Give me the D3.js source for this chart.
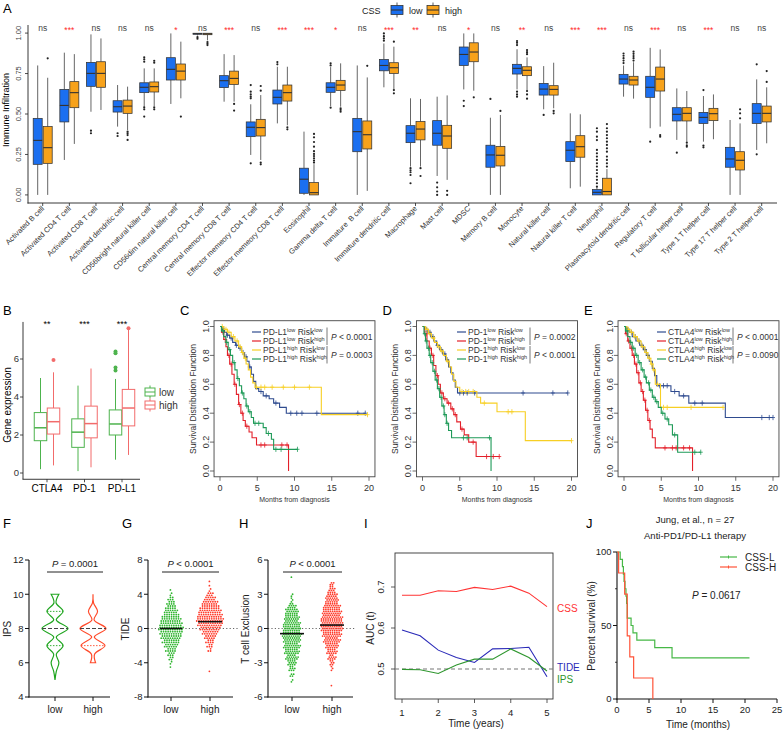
<!DOCTYPE html>
<html>
<head>
<meta charset="utf-8">
<script src="https://cdn.jsdelivr.net/npm/d3@7"></script>
<style>
  body { margin: 0; background: #fff; }
  svg { font-family: "Liberation Sans", Arial, sans-serif; }
</style>
</head>
<body>
<svg id="fig" width="784" height="732"></svg>
<script>
/* ---------- panel A: ssGSEA immune infiltration ---------- */
var cellTypes = ["Activated B cell", "Activated CD4 T cell", "Activated CD8 T cell", "Activated dendritic cell",
    "CD56bright natural killer cell", "CD56dim natural killer cell", "Central memory CD4 T cell",
    "Central memory CD8 T cell", "Effector memeory CD4 T cell", "Effector memeory CD8 T cell", "Eosinophil",
    "Gamma delta T cell", "Immature  B cell", "Immature dendritic cell", "Macrophage", "Mast cell", "MDSC",
    "Memory B cell", "Monocyte", "Natural killer cell", "Natural killer T cell", "Neutrophil",
    "Plasmacytoid dendritic cell", "Regulatory T cell", "T follicular helper cell", "Type 1 T helper cell",
    "Type 17 T helper cell", "Type 2 T helper cell"];
var sigA = ["ns", "***", "ns", "ns", "ns", "*", "ns", "***", "ns", "***", "***", "*", "ns", "***", "**", "ns",
    "*", "ns", "**", "ns", "***", "***", "ns", "***", "ns", "***", "ns", "ns"];
// [lower whisker, q1, median, q3, upper whisker]
var lowBox = [[0, 0.189, 0.337, 0.473, 0.80], [0.216, 0.451, 0.553, 0.652, 0.879], [0.514, 0.671, 0.751, 0.819, 0.992],
    [0.422, 0.512, 0.545, 0.582, 0.679], [0.545, 0.632, 0.665, 0.693, 0.782], [0.562, 0.710, 0.776, 0.848, 0.998],
    [0.985, 0.993, 0.996, 0.999, 1.0], [0.576, 0.663, 0.706, 0.737, 0.870], [0.247, 0.360, 0.418, 0.451, 0.56],
    [0.442, 0.562, 0.603, 0.648, 0.792], [0, 0.01, 0.097, 0.165, 0.391], [0.549, 0.634, 0.665, 0.693, 0.79],
    [0, 0.267, 0.391, 0.473, 0.80], [0.665, 0.767, 0.80, 0.837, 0.936], [0.175, 0.323, 0.381, 0.428, 0.597],
    [0.117, 0.307, 0.381, 0.459, 0.607], [0.652, 0.80, 0.868, 0.914, 0.998], [0, 0.171, 0.247, 0.307, 0.477],
    [0.652, 0.747, 0.782, 0.807, 0.90], [0.529, 0.617, 0.654, 0.689, 0.796], [0.041, 0.206, 0.276, 0.329, 0.504],
    [0, 0, 0.016, 0.033, 0.045], [0.607, 0.685, 0.716, 0.745, 0.80], [0.412, 0.603, 0.665, 0.733, 0.909],
    [0.340, 0.457, 0.498, 0.539, 0.658], [0.329, 0.442, 0.479, 0.510, 0.611], [0, 0.171, 0.222, 0.294, 0.463],
    [0.278, 0.442, 0.504, 0.564, 0.714]];
var highBox = [[0, 0.195, 0.292, 0.422, 0.724], [0.315, 0.539, 0.632, 0.70, 0.870], [0.525, 0.665, 0.751, 0.823, 0.967],
    [0.401, 0.504, 0.549, 0.586, 0.669], [0.549, 0.636, 0.669, 0.698, 0.782], [0.597, 0.71, 0.765, 0.809, 0.947],
    [0.955, 0.99, 0.995, 0.999, 1.0], [0.576, 0.683, 0.720, 0.765, 0.864], [0.216, 0.364, 0.416, 0.467, 0.617],
    [0.43, 0.580, 0.632, 0.679, 0.792], [0, 0, 0.014, 0.076, 0.19], [0.545, 0.646, 0.679, 0.708, 0.813],
    [0.025, 0.284, 0.372, 0.457, 0.726], [0.652, 0.751, 0.786, 0.817, 0.916], [0.175, 0.340, 0.407, 0.453, 0.593],
    [0.093, 0.288, 0.364, 0.430, 0.615], [0.644, 0.823, 0.883, 0.940, 0.998], [0, 0.179, 0.245, 0.300, 0.494],
    [0.648, 0.737, 0.770, 0.792, 0.85], [0.535, 0.617, 0.652, 0.675, 0.817], [0.051, 0.233, 0.298, 0.366, 0.498],
    [0, 0, 0.021, 0.103, 0.16], [0.595, 0.679, 0.710, 0.733, 0.82], [0.422, 0.642, 0.716, 0.790, 0.899],
    [0.329, 0.457, 0.504, 0.539, 0.642], [0.344, 0.459, 0.502, 0.535, 0.621], [0, 0.154, 0.214, 0.267, 0.442],
    [0.319, 0.451, 0.504, 0.549, 0.665]];
var lowOut = [[], [], [0.397, 0.381], [0.381, 0.364], [0.85, 0.837, 0.823, 0.541, 0.529, 0.484], [], [0.975, 0.965], [],
    [0.679, 0.638, 0.621, 0.607, 0.597, 0.195], [0.821, 0.807], [], [0.813, 0.80, 0.539], [], [0.998, 0.981, 0.967, 0.953],
    [0.165, 0.152, 0.14, 0.123, 0.072], [0.076, 0.047, 0.021, 0], [0.582, 0.549], [0.593], [0.951, 0.94, 0.926, 0.638, 0.621, 0.607],
    [0.494], [], [0.412, 0.391, 0.360, 0.339, 0.278, 0.257, 0.237, 0.216, 0.195, 0.175, 0.154, 0.134, 0.113, 0.093, 0.072, 0.051],
    [0.874, 0.86, 0.845, 0.83, 0.815], [0.329], [0.261], [0.648, 0.305, 0.294], [], [0.807, 0.251]];
var highOut = [[0.844], [], [], [0.391, 0.381, 0.370, 0.340], [0.829, 0.817, 0.541, 0.529], [0.484], [0.945, 0.935, 0.926],
    [0.562, 0.521], [0.673, 0.644, 0.2, 0.189], [0.418, 0.405], [0.377, 0.356, 0.327, 0.298, 0.27, 0.253, 0.24, 0.226, 0.212, 0.2],
    [0.535, 0.525, 0.514], [0.798], [0.947, 0.648, 0.628], [0.165, 0.117], [0.025, 0], [0.603], [0.519],
    [0.895, 0.882, 0.87, 0.642, 0.621, 0.595], [0.519, 0.504], [],
    [0.438, 0.412, 0.391, 0.370, 0.350, 0.329, 0.309, 0.288, 0.267, 0.237, 0.216, 0.195, 0.175],
    [0.885, 0.872, 0.858, 0.845, 0.83], [0.370, 0.360], [0.323, 0.307, 0.298], [], [0.529, 0.504, 0.473], [0.765, 0.698]];
var ticksA = [0, 0.25, 0.5, 0.75, 1];

/* ---------- panel B: checkpoint gene expression ---------- */
var geneNames = ["CTLA4", "PD-1", "PD-L1"];
var sigB = ["**", "***", "***"];
var lowGene = [[0.2, 1.7, 2.38, 3.18, 5.0], [0.1, 1.35, 2.15, 2.85, 4.6], [0.7, 2.0, 2.58, 3.32, 4.95]];
var highGene = [[0.4, 2.05, 2.7, 3.42, 5.3], [0.3, 1.85, 2.6, 3.52, 5.5], [0.95, 2.48, 3.42, 4.4, 7.55]];
var lowGeneOut = [[], [], [5.4, 5.55, 6.3, 6.4]];
var highGeneOut = [[5.95], [], [7.62]];
var ticksB = [0, 2, 4, 6];

/* ---------- panels C-E: KM curves, [time, survival after drop] ---------- */
var kmTicksX = [0, 5, 10, 15, 20];
var kmTicksY = [0, 0.2, 0.4, 0.6, 0.8, 1.0];
var pdl1LL = [[0.3, 0.98], [0.6, 0.96], [0.9, 0.94], [1.3, 0.92], [1.7, 0.89], [2.1, 0.87], [2.5, 0.85], [2.9, 0.82], [3.3, 0.79],
    [3.6, 0.76], [3.9, 0.72], [4.2, 0.67], [4.5, 0.62], [4.8, 0.57], [5.2, 0.55], [5.8, 0.52], [6.6, 0.50], [7.2, 0.47], [8.0, 0.44], [8.9, 0.40]];
var pdl1LH = [[0.2, 0.96], [0.5, 0.91], [0.8, 0.86], [1.0, 0.80], [1.3, 0.74], [1.6, 0.67], [1.9, 0.60], [2.2, 0.53], [2.5, 0.46],
    [2.8, 0.40], [3.1, 0.35], [3.4, 0.31], [3.9, 0.27], [4.3, 0.23], [4.9, 0.18], [9.2, 0.0]];
var pdl1HL = [[0.5, 0.98], [1.0, 0.96], [1.5, 0.93], [2.0, 0.90], [2.5, 0.86], [2.9, 0.82], [3.2, 0.78], [3.5, 0.74], [3.8, 0.70],
    [4.1, 0.65], [4.4, 0.61], [4.7, 0.58], [13.6, 0.39]];
var pdl1HH = [[0.2, 0.97], [0.5, 0.93], [0.8, 0.89], [1.1, 0.84], [1.4, 0.80], [1.7, 0.75], [2.0, 0.70], [2.3, 0.64], [2.6, 0.59],
    [2.9, 0.54], [3.2, 0.50], [3.5, 0.45], [3.8, 0.41], [4.2, 0.37], [4.5, 0.33], [5.8, 0.30], [6.2, 0.26], [6.9, 0.22], [7.2, 0.15]];
var pdl1LLc = [0.5, 1.0, 1.5, 2.2, 2.7, 3.1, 3.5, 4.0, 5.5, 6.2, 7.5, 9.5, 10.3, 11.0, 13.0, 18.5, 19.5];
var pdl1LHc = [0.4, 0.7, 1.2, 1.5, 2.0, 2.6, 3.0, 3.6, 5.5, 6.0, 8.3, 9.0];
var pdl1HLc = [0.3, 0.8, 1.2, 1.8, 2.3, 2.7, 3.0, 3.4, 4.9, 5.5, 6.0, 7.0, 8.5, 10.0, 12.0, 19.8];
var pdl1HHc = [0.4, 0.9, 1.3, 1.9, 2.4, 3.0, 3.6, 4.0, 4.7, 5.2, 6.5, 7.5, 8.2, 10.4];

var pd1LL = [[0.3, 0.98], [0.7, 0.96], [1.1, 0.93], [1.5, 0.90], [1.9, 0.87], [2.3, 0.84], [2.7, 0.81], [3.1, 0.77], [3.5, 0.72],
    [3.8, 0.68], [4.1, 0.63], [4.4, 0.58], [4.7, 0.54]];
var pd1LH = [[0.3, 0.95], [0.6, 0.90], [0.9, 0.85], [1.2, 0.80], [1.5, 0.73], [1.8, 0.66], [2.1, 0.60], [2.4, 0.54], [2.8, 0.50],
    [3.3, 0.47], [3.8, 0.43], [4.2, 0.39], [4.6, 0.34], [5.1, 0.29], [5.6, 0.25], [6.2, 0.20], [7.2, 0.10]];
var pd1HL = [[0.4, 0.98], [0.8, 0.95], [1.2, 0.92], [1.6, 0.89], [2.0, 0.86], [2.4, 0.83], [2.8, 0.80], [3.2, 0.76], [3.6, 0.72],
    [3.9, 0.67], [4.2, 0.62], [4.5, 0.58], [5.0, 0.55], [7.3, 0.51], [7.8, 0.47], [10.0, 0.41], [13.8, 0.21]];
var pd1HH = [[0.2, 0.95], [0.4, 0.90], [0.6, 0.85], [0.9, 0.80], [1.1, 0.75], [1.4, 0.69], [1.7, 0.63], [2.0, 0.57], [2.3, 0.51],
    [2.6, 0.45], [2.9, 0.39], [3.2, 0.33], [3.5, 0.28], [3.9, 0.23], [9.2, 0.0]];
var pd1LLc = [0.5, 1.0, 1.4, 2.0, 2.5, 3.0, 3.3, 5.0, 5.5, 6.0, 7.0, 13.5, 17.5, 19.5];
var pd1LHc = [0.5, 1.0, 1.4, 2.0, 2.6, 3.0, 3.5, 4.0, 4.4, 5.3, 6.8, 8.6, 9.5, 10.3];
var pd1HLc = [0.6, 1.0, 1.5, 2.2, 2.6, 3.4, 5.3, 5.8, 6.2, 6.8, 8.3, 11.5, 12.0, 20.0];
var pd1HHc = [0.3, 0.5, 0.8, 1.0, 1.3, 1.6, 1.9, 2.2, 2.5, 2.8, 3.0, 3.3, 5.5, 6.0, 9.0];

var ctla4LL = [[0.3, 0.98], [0.7, 0.96], [1.1, 0.93], [1.6, 0.90], [2.1, 0.87], [2.6, 0.84], [3.0, 0.80], [3.4, 0.76], [3.8, 0.71],
    [4.1, 0.66], [4.4, 0.59], [6.3, 0.55], [7.4, 0.52], [8.7, 0.47], [13.6, 0.37]];
var ctla4LH = [[0.2, 0.95], [0.5, 0.90], [0.8, 0.85], [1.1, 0.80], [1.4, 0.74], [1.7, 0.68], [2.0, 0.61], [2.3, 0.55], [2.6, 0.49],
    [2.9, 0.42], [3.2, 0.35], [3.5, 0.29], [3.8, 0.23], [4.2, 0.16], [9.2, 0.0]];
var ctla4HL = [[0.4, 0.98], [0.8, 0.96], [1.3, 0.93], [1.8, 0.90], [2.3, 0.86], [2.8, 0.82], [3.2, 0.78], [3.6, 0.74], [3.9, 0.70],
    [4.2, 0.60], [4.9, 0.44]];
var ctla4HH = [[0.2, 0.97], [0.5, 0.93], [0.8, 0.89], [1.1, 0.85], [1.5, 0.80], [1.9, 0.75], [2.3, 0.70], [2.7, 0.65], [3.0, 0.61],
    [3.4, 0.56], [3.8, 0.51], [4.2, 0.48], [4.6, 0.44], [5.0, 0.40], [5.5, 0.36], [6.0, 0.32], [6.5, 0.25], [7.2, 0.13]];
var ctla4LLc = [0.5, 1.0, 1.5, 2.0, 2.4, 2.8, 3.2, 4.8, 5.3, 5.8, 6.8, 8.0, 9.5, 10.5, 18.5, 19.5, 20.0];
var ctla4LHc = [0.3, 0.6, 1.0, 1.3, 1.6, 1.9, 2.2, 2.5, 2.8, 3.1, 3.4, 5.5, 6.5, 7.0, 8.0, 8.8];
var ctla4HLc = [0.6, 1.0, 1.5, 2.0, 2.5, 3.0, 3.4, 3.7, 4.0, 4.5, 5.3, 5.8, 9.0, 13.3];
var ctla4HHc = [0.4, 0.9, 1.3, 1.7, 2.1, 2.5, 2.9, 3.3, 3.6, 4.0, 4.4, 5.2, 5.8, 6.8, 9.5, 10.3];

/* ---------- panel F: IPS violins ---------- */
var ipsLowV = [5, 5.5, 6, 6.5, 7, 7.5, 8, 8.5, 9, 9.5, 10];
var ipsLowW = [0, 0.1, 0.3, 0.1, 0.62, 0.1, 1.0, 0.1, 0.62, 0.08, 0.3];
var ipsHighV = [6, 6.5, 7, 7.5, 8, 8.5, 9, 9.5, 10];
var ipsHighW = [0.2, 0.12, 0.92, 0.1, 1.0, 0.08, 0.35, 0.04, 0.0];
var ticksF = [4, 6, 8, 10, 12];

/* ---------- panels G, H: dot counts per 0.5-wide bin ---------- */
var tideBins = [-5, -4.5, -4, -3.5, -3, -2.5, -2, -1.5, -1, -0.5, 0, 0.5, 1, 1.5, 2, 2.5, 3, 3.5, 4, 4.5, 5, 5.5];
var tideLow = [0, 1, 2, 4, 6, 9, 12, 15, 18, 20, 22, 20, 18, 15, 12, 9, 7, 5, 2, 1, 0, 0];
var tideHigh = [1, 0, 0, 0, 0, 3, 5, 7, 10, 14, 18, 22, 24, 22, 20, 17, 14, 10, 6, 2, 1, 1];
var tideMed = [0, 0.8];
var excBins = [-5, -4.5, -4, -3.5, -3, -2.5, -2, -1.5, -1, -0.5, 0, 0.5, 1, 1.5, 2, 2.5, 3, 3.5, 4, 4.5];
var excLow = [0, 2, 4, 8, 12, 16, 20, 22, 24, 26, 24, 22, 20, 18, 10, 3, 2, 0, 0, 1];
var excHigh = [1, 0, 0, 3, 6, 10, 14, 18, 22, 26, 30, 30, 28, 26, 22, 18, 14, 8, 4, 0];
var excMed = [-0.45, 0.3];
var ticksG = [-8, -4, 0, 4, 8];
var ticksH = [-6, -3, 0, 3, 6];

/* ---------- panel I: time-dependent AUC ---------- */
var aucTimes = [1, 1.5, 2, 2.5, 3, 3.5, 4, 4.5, 5];
var aucCSS = [0.680, 0.680, 0.691, 0.689, 0.699, 0.694, 0.702, 0.685, 0.652];
var aucTIDE = [0.595, 0.581, 0.546, 0.528, 0.516, 0.549, 0.550, 0.553, 0.481];
var aucIPS = [0.499, 0.498, 0.489, 0.510, 0.524, 0.524, 0.549, 0.528, 0.495];

/* ---------- panel J: immunotherapy cohort ---------- */
var jungL = [[0.5, 95], [0.85, 90], [1.0, 85], [1.1, 80], [1.25, 75], [1.4, 70], [1.5, 65], [1.6, 55], [2.2, 50], [2.5, 45],
    [3.1, 40], [5.9, 35], [8.6, 28]];
var jungH = [[0.25, 85.7], [1.2, 71.4], [1.6, 42.9], [2.0, 28.6], [2.6, 14.3], [5.6, 0]];
var jungLEnd = 20.7;
var ticksJx = [0, 5, 10, 15, 20, 25];
var ticksJy = [0, 50, 100];

var BLUE = "#1b6ff0", ORANGE = "#f7a21b";
var GREEN_B = "#4db34d", RED_B = "#f26b6b";
var KM_COL = ["#2f4b8f", "#e3202a", "#f7cf24", "#1e9a58"];

var svg = d3.select("#fig");

function txt(g, x, y, s, size, attrs) {
    var t = g.append("text").attr("x", x).attr("y", y).attr("font-size", size).text(s);
    for (var k in (attrs || {})) t.attr(k, attrs[k]);
    return t;
}
function line(g, x1, y1, x2, y2, stroke, w, dash) {
    var l = g.append("line").attr("x1", x1).attr("y1", y1).attr("x2", x2).attr("y2", y2)
        .attr("stroke", stroke).attr("stroke-width", w);
    if (dash) l.attr("stroke-dasharray", dash);
    return l;
}
function ptext(g, x, y, rest, size, anchor) {
    var t = g.append("text").attr("x", x).attr("y", y).attr("font-size", size).attr("text-anchor", anchor || "start");
    t.append("tspan").attr("font-style", "italic").text("P");
    t.append("tspan").text(" " + rest);
    return t;
}
function box(g, s, outs, cx, w, y, fill, stroke, sw, outCol, r) {
    line(g, cx, y(s[0]), cx, y(s[1]), stroke, sw);
    line(g, cx, y(s[3]), cx, y(s[4]), stroke, sw);
    g.append("rect").attr("x", cx - w / 2).attr("y", y(s[3])).attr("width", w)
        .attr("height", Math.max(0.6, y(s[1]) - y(s[3]))).attr("fill", fill).attr("stroke", stroke).attr("stroke-width", sw);
    line(g, cx - w / 2, y(s[2]), cx + w / 2, y(s[2]), stroke, sw * 1.5);
    outs.forEach(function(v) {
        g.append("circle").attr("cx", cx).attr("cy", y(v)).attr("r", r).attr("fill", outCol);
    });
}
function label(x, y, s) { txt(svg, x, y, s, 13); }

/* ===== A ===== */
(function() {
    var g = svg.append("g");
    var x = d3.scalePoint().domain(d3.range(cellTypes.length)).range([42.7, 761.7]);
    var y = d3.scaleLinear().domain([-0.05, 1.05]).range([203, 25]);
    label(3, 13, "A");
    line(g, 28, 25, 28, 203.5, "#222", 0.9);
    line(g, 27.5, 203, 777, 203, "#222", 0.9);
    ticksA.forEach(function(v) {
        line(g, 25, y(v), 28, y(v), "#222", 0.8);
        txt(g, 20.6, y(v), d3.format(".2f")(v), 7.5, {"text-anchor": "middle", fill: "#444",
            transform: "rotate(-90," + 20.6 + "," + y(v) + ")"});
    });
    txt(g, 9, 110, "Immune Infiltration", 9, {"text-anchor": "middle", transform: "rotate(-90,9,110)"});
    cellTypes.forEach(function(c, i) {
        var cx = x(i);
        line(g, cx, 203, cx, 206, "#222", 0.8);
        txt(g, cx + 2, 209, c, 7.5, {"text-anchor": "end", fill: "#333", style: "white-space:pre",
            transform: "rotate(-45," + (cx + 2) + ",209)"});
        box(g, lowBox[i], lowOut[i], cx - 5, 9, y, BLUE, "#333", 0.75, "#222", 1.1);
        box(g, highBox[i], highOut[i], cx + 5, 9, y, ORANGE, "#333", 0.75, "#222", 1.1);
        var star = sigA[i] !== "ns";
        txt(g, cx, star ? 33 : 30.5, sigA[i], 8.5, {"text-anchor": "middle", fill: star ? "#ff2a2a" : "#444"});
    });
    // legend
    txt(g, 362, 14, "CSS", 9, {fill: "#222"});
    [[BLUE, 391, "low"], [ORANGE, 427, "high"]].forEach(function(d) {
        line(g, d[1] + 6, 2.5, d[1] + 6, 17.5, "#333", 0.8);
        g.append("rect").attr("x", d[1]).attr("y", 5.5).attr("width", 12).attr("height", 9)
            .attr("fill", d[0]).attr("stroke", "#333").attr("stroke-width", 0.8);
        line(g, d[1], 10, d[1] + 12, 10, "#333", 1.1);
        txt(g, d[1] + 18, 13.5, d[2], 9, {fill: "#222"});
    });
})();

/* ===== B ===== */
(function() {
    var g = svg.append("g");
    var x = d3.scalePoint().domain(geneNames).range([47, 122]);
    var y = d3.scaleLinear().domain([0, 6]).range([473, 359]);
    label(3, 315, "B");
    line(g, 23, y(7.95), 23, y(-0.33), "#222", 0.9);
    line(g, 22.5, y(-0.33), 140, y(-0.33), "#222", 0.9);
    ticksB.forEach(function(v) {
        line(g, 20, y(v), 23, y(v), "#222", 0.8);
        txt(g, 19, y(v) + 3.3, v, 9.5, {"text-anchor": "end", fill: "#333"});
    });
    txt(g, 10.5, 405, "Gene expression", 10, {"text-anchor": "middle", transform: "rotate(-90,10.5,405)"});
    geneNames.forEach(function(n, i) {
        var cx = x(n);
        line(g, cx, y(-0.33), cx, y(-0.33) + 3, "#222", 0.8);
        txt(g, cx, 491.5, n, 10, {"text-anchor": "middle"});
        box(g, lowGene[i], lowGeneOut[i], cx - 6.5, 12.5, y, "#fff", GREEN_B, 1, GREEN_B, 2);
        box(g, highGene[i], highGeneOut[i], cx + 6.5, 12.5, y, "#fff", RED_B, 1, RED_B, 2);
        txt(g, cx, 327, sigB[i], 9, {"text-anchor": "middle"});
    });
    [[GREEN_B, 392, "low"], [RED_B, 405, "high"]].forEach(function(d) {
        line(g, 150, d[1] - 6.5, 150, d[1] + 6.5, d[0], 1);
        g.append("rect").attr("x", 145).attr("y", d[1] - 4).attr("width", 10).attr("height", 8)
            .attr("fill", "#fff").attr("stroke", d[0]).attr("stroke-width", 1);
        line(g, 145, d[1], 155, d[1], d[0], 1);
        txt(g, 159, d[1] + 3.5, d[2], 10, {fill: "#333"});
    });
})();

/* ===== C, D, E ===== */
function survAt(steps, t) {
    var s = 1;
    steps.forEach(function(d) { if (d[0] <= t) s = d[1]; });
    return s;
}
function kmPanel(letter, x0, gene, curves, censors, pvals, legX, barX) {
    var g = svg.append("g");
    var x = d3.scaleLinear().domain([0, 20]).range([x0, x0 + 149]);
    var y = d3.scaleLinear().domain([0, 1]).range([471, 326.5]);
    var fl = x(-0.8), fr = x(20.8), ft = y(1.04), fb = y(-0.04);
    label(fl - 34, 315, letter);
    g.append("rect").attr("x", fl).attr("y", ft).attr("width", fr - fl).attr("height", fb - ft)
        .attr("fill", "none").attr("stroke", "#444").attr("stroke-width", 0.9);
    kmTicksX.forEach(function(t) {
        line(g, x(t), fb, x(t), fb + 4, "#444", 0.8);
        txt(g, x(t), 490.5, t, 9, {"text-anchor": "middle", fill: "#333"});
    });
    kmTicksY.forEach(function(v) {
        line(g, fl - 4, y(v), fl, y(v), "#444", 0.8);
        var tx = fl - 5.5;
        txt(g, tx, y(v), d3.format(".1f")(v), 9, {"text-anchor": "middle", fill: "#333",
            transform: "rotate(-90," + tx + "," + y(v) + ")"});
    });
    var ty = fl - 18.5;
    txt(g, ty, 399, "Survival Distribution Function", 8.5, {"text-anchor": "middle", fill: "#333",
        transform: "rotate(-90," + ty + ",399)"});
    txt(g, (fl + fr) / 2, 501.5, "Months from diagnosis", 7, {"text-anchor": "middle", fill: "#333"});

    var path = d3.line().x(function(d) { return x(d[0]); }).y(function(d) { return y(d[1]); });
    curves.forEach(function(steps, i) {
        var pts = [[0, 1]], s = 1;
        steps.forEach(function(d) { pts.push([d[0], s]); pts.push([d[0], d[1]]); s = d[1]; });
        var end = Math.max(steps[steps.length - 1][0], d3.max(censors[i]));
        if (end > pts[pts.length - 1][0]) pts.push([end, s]);
        g.append("path").attr("d", path(pts)).attr("fill", "none").attr("stroke", KM_COL[i]).attr("stroke-width", 1.1);
        censors[i].forEach(function(t) {
            var cx = x(t), cy = y(survAt(steps, t));
            line(g, cx - 2, cy, cx + 2, cy, KM_COL[i], 0.8);
            line(g, cx, cy - 2.6, cx, cy + 2.6, KM_COL[i], 0.8);
        });
    });
    // legend
    var sups = [["low", "low"], ["low", "high"], ["high", "low"], ["high", "high"]];
    sups.forEach(function(sp, i) {
        var ry = 332 + i * 9;
        line(g, legX - 11, ry, legX - 2, ry, KM_COL[i], 1.2);
        var t = g.append("text").attr("x", legX).attr("y", ry + 3).attr("font-size", 8.5).attr("fill", "#333");
        t.append("tspan").text(gene);
        t.append("tspan").attr("font-size", 5.5).attr("dy", -3.2).text(sp[0]);
        t.append("tspan").attr("dy", 3.2).text(" Risk");
        t.append("tspan").attr("font-size", 5.5).attr("dy", -3.2).text(sp[1]);
    });
    line(g, barX, 327.5, barX, 345, "#555", 0.8);
    line(g, barX, 346, barX, 363.5, "#555", 0.8);
    ptext(g, barX + 4, 340, pvals[0], 8.5).attr("fill", "#333");
    ptext(g, barX + 4, 358, pvals[1], 8.5).attr("fill", "#333");
}
kmPanel("C", 220, "PD-L1", [pdl1LL, pdl1LH, pdl1HL, pdl1HH], [pdl1LLc, pdl1LHc, pdl1HLc, pdl1HHc],
    ["< 0.0001", "= 0.0003"], 263, 327);
kmPanel("D", 422.5, "PD-1", [pd1LL, pd1LH, pd1HL, pd1HH], [pd1LLc, pd1LHc, pd1HLc, pd1HHc],
    ["= 0.0002", "< 0.0001"], 468, 530);
kmPanel("E", 624, "CTLA4", [ctla4LL, ctla4LH, ctla4HL, ctla4HH], [ctla4LLc, ctla4LHc, ctla4HLc, ctla4HHc],
    ["< 0.0001", "= 0.0090"], 668, 733);

/* ===== shared helpers for prism-style panels ===== */
function prismAxes(g, axX, xEnd, y, ticks, cats, catX, title, titleX) {
    line(g, axX, y.range()[1], axX, y.range()[0] + 0.5, "#111", 1.1);
    line(g, axX - 0.5, y.range()[0], xEnd, y.range()[0], "#111", 1.1);
    ticks.forEach(function(v) {
        line(g, axX - 4, y(v), axX, y(v), "#111", 1);
        txt(g, axX - 5.5, y(v) + 3.4, v, 9.5, {"text-anchor": "end", fill: "#222"});
    });
    cats.forEach(function(c, i) {
        line(g, catX[i], y.range()[0], catX[i], y.range()[0] + 4, "#111", 1);
        txt(g, catX[i], 712.5, c, 10, {"text-anchor": "middle", fill: "#222"});
    });
    txt(g, titleX, 629, title, 10, {"text-anchor": "middle", fill: "#222",
        transform: "rotate(-90," + titleX + ",629)"});
}
function pbar(g, x1, x2, pstr) {
    line(g, x1, 572, x2, 572, "#222", 1);
    ptext(g, (x1 + x2) / 2, 567, pstr, 9.5, "middle").attr("fill", "#222");
}

/* ===== F ===== */
(function() {
    var g = svg.append("g");
    var y = d3.scaleLinear().domain([4, 12]).range([697, 560]);
    label(3, 528, "F");
    prismAxes(g, 29, 110, y, ticksF, ["low", "high"], [55, 93], "IPS", 10.5);
    var half = 13;
    function violin(vals, ws, cx, col, quart) {
        var data = vals.map(function(v, i) { return {v: v, w: ws[i]}; });
        var area = d3.area().y(function(d) { return y(d.v); })
            .x0(function(d) { return cx - d.w * half; }).x1(function(d) { return cx + d.w * half; })
            .curve(d3.curveCatmullRom);
        g.append("path").attr("d", area(data)).attr("fill", "none").attr("stroke", col).attr("stroke-width", 1.2);
        quart.forEach(function(q) {
            var w = ws[vals.indexOf(q)] * half;
            line(g, cx - w, y(q), cx + w, y(q), col, 0.9, "1.5,1.5");
        });
        var wm = ws[vals.indexOf(8)] * half;
        line(g, cx - wm, y(8), cx + wm, y(8), "#444", 1, "4,2");
    }
    violin(ipsLowV, ipsLowW, 55, "#1fa51f", [9, 7]);
    violin(ipsHighV, ipsHighW, 93, "#ff4a2a", [7]);
    pbar(g, 47, 103, "= 0.0001");
})();

/* ===== G, H ===== */
function swarm(g, bins, counts, binW, cx, y, col, rows, dx) {
    bins.forEach(function(b, i) {
        var n = counts[i], k = 0;
        if (!n) return;
        var per = Math.ceil(n / rows);
        for (var r = 0; r < rows && k < n; r++) {
            var m = Math.min(per, n - k);
            var yv = n === 1 ? b : b - binW / 2 + binW * (r + 0.5) / rows;
            for (var j = 0; j < m; j++) {
                g.append("circle").attr("cx", cx + (j - (m - 1) / 2) * dx + (r % 2 ? 0.6 : -0.6))
                    .attr("cy", y(yv)).attr("r", 0.9).attr("fill", col);
                k++;
            }
        }
    });
}
(function() {
    var g = svg.append("g");
    var y = d3.scaleLinear().domain([-8, 8]).range([697, 560]);
    label(122, 528, "G");
    line(g, 148, y(0), 238, y(0), "#555", 0.9, "1.2,2.2");
    prismAxes(g, 148, 233, y, ticksG, ["low", "high"], [171, 210], "TIDE", 128.5);
    swarm(g, tideBins, tideLow, 0.5, 171, y, "#2fb52f", 2, 2.3);
    swarm(g, tideBins, tideHigh, 0.5, 210, y, "#ff3b2b", 2, 2.3);
    line(g, 160, y(tideMed[0]), 182, y(tideMed[0]), "#111", 1.6);
    line(g, 198, y(tideMed[1]), 222, y(tideMed[1]), "#111", 1.6);
    pbar(g, 162, 219, "< 0.0001");
})();
(function() {
    var g = svg.append("g");
    var y = d3.scaleLinear().domain([-6, 6]).range([697, 560]);
    label(239, 528, "H");
    line(g, 268, y(0), 356, y(0), "#555", 0.9, "1.2,2.2");
    prismAxes(g, 268, 353, y, ticksH, ["low", "high"], [292, 332], "T cell Exclusion", 248.5);
    swarm(g, excBins, excLow, 0.5, 292, y, "#2fb52f", 3, 2.2);
    swarm(g, excBins, excHigh, 0.5, 332, y, "#ff3b2b", 3, 2.2);
    line(g, 280, y(excMed[0]), 304, y(excMed[0]), "#111", 1.6);
    line(g, 320, y(excMed[1]), 344, y(excMed[1]), "#111", 1.6);
    pbar(g, 283, 342, "< 0.0001");
})();

/* ===== I ===== */
(function() {
    var g = svg.append("g");
    var x = d3.scaleLinear().domain([1, 5]).range([402, 547]);
    var y = d3.scaleLinear().domain([0.5, 0.7]).range([669, 587]);
    label(364, 528, "I");
    g.append("rect").attr("x", 395).attr("y", 553).attr("width", 158).attr("height", 146)
        .attr("fill", "none").attr("stroke", "#333").attr("stroke-width", 0.9);
    [1, 2, 3, 4, 5].forEach(function(t) {
        line(g, x(t), 699, x(t), 703, "#333", 0.8);
        txt(g, x(t), 716, t, 9.5, {"text-anchor": "middle", fill: "#222"});
    });
    [0.5, 0.6, 0.7].forEach(function(v) {
        line(g, 391, y(v), 395, y(v), "#333", 0.8);
        txt(g, 384, y(v), v.toFixed(1), 9.5, {"text-anchor": "middle", fill: "#222",
            transform: "rotate(-90,384," + y(v) + ")"});
    });
    txt(g, 373.5, 628, "AUC (t)", 10, {"text-anchor": "middle", fill: "#222", transform: "rotate(-90,373.5,628)"});
    txt(g, 476, 727, "Time (years)", 10, {"text-anchor": "middle", fill: "#222"});
    line(g, 395, y(0.5), 553, y(0.5), "#777", 1.1, "4,3");
    var ln = d3.line().x(function(d, i) { return x(aucTimes[i]); }).y(function(d) { return y(d); });
    [[aucCSS, "#ff3434"], [aucTIDE, "#2a2ab8"], [aucIPS, "#2e962e"]].forEach(function(d) {
        g.append("path").attr("d", ln(d[0])).attr("fill", "none").attr("stroke", d[1]).attr("stroke-width", 1.1);
    });
    txt(g, 557, 611.5, "CSS", 10, {fill: "#ff3434"});
    txt(g, 557, 670.5, "TIDE", 10, {fill: "#2a2ab8"});
    txt(g, 557, 682.5, "IPS", 10, {fill: "#2e962e"});
})();

/* ===== J ===== */
(function() {
    var g = svg.append("g");
    var x = d3.scaleLinear().domain([0, 25]).range([617, 777]);
    var y = d3.scaleLinear().domain([0, 100]).range([699, 552]);
    label(586, 528, "J");
    txt(g, 695, 522.5, "Jung, et al., n = 27", 9.5, {"text-anchor": "middle", fill: "#222"});
    txt(g, 695, 538.5, "Anti-PD1/PD-L1 therapy", 9.5, {"text-anchor": "middle", fill: "#222"});
    line(g, 617, 552, 617, 699.5, "#111", 1.1);
    line(g, 616.5, 699, 777, 699, "#111", 1.1);
    ticksJy.forEach(function(v) {
        line(g, 613, y(v), 617, y(v), "#111", 1);
        txt(g, 611.5, y(v) + 3.4, v, 9.5, {"text-anchor": "end", fill: "#222"});
    });
    [25, 75].forEach(function(v) { line(g, 615, y(v), 617, y(v), "#111", 0.8); });
    ticksJx.forEach(function(t) {
        line(g, x(t), 699, x(t), 703, "#111", 1);
        txt(g, x(t), 713, t, 9.5, {"text-anchor": "middle", fill: "#222"});
    });
    txt(g, 594.5, 626, "Percent survival (%)", 10, {"text-anchor": "middle", fill: "#222",
        transform: "rotate(-90,594.5,626)"});
    txt(g, 698, 728, "Time (months)", 10, {"text-anchor": "middle", fill: "#222"});
    var path = d3.line().x(function(d) { return x(d[0]); }).y(function(d) { return y(d[1]); });
    function steps(st, end) {
        var pts = [[0, 100]], s = 100;
        st.forEach(function(d) { pts.push([d[0], s]); pts.push([d[0], d[1]]); s = d[1]; });
        if (end) pts.push([end, s]);
        return pts;
    }
    g.append("path").attr("d", path(steps(jungL, jungLEnd))).attr("fill", "none").attr("stroke", "#46b846").attr("stroke-width", 1.2);
    g.append("path").attr("d", path(steps(jungH))).attr("fill", "none").attr("stroke", "#ff5338").attr("stroke-width", 1.2);
    [["#46b846", 557, "CSS-L"], ["#ff5338", 567, "CSS-H"]].forEach(function(d) {
        line(g, 720, d[1], 737, d[1], d[0], 1.2);
        line(g, 728.5, d[1] - 1.5, 728.5, d[1] + 1.5, d[0], 1);
        txt(g, 745, d[1] + 3.5, d[2], 10, {fill: "#222"});
    });
    ptext(g, 692, 598.5, "= 0.0617", 10).attr("fill", "#222");
})();
</script>
</body>
</html>
